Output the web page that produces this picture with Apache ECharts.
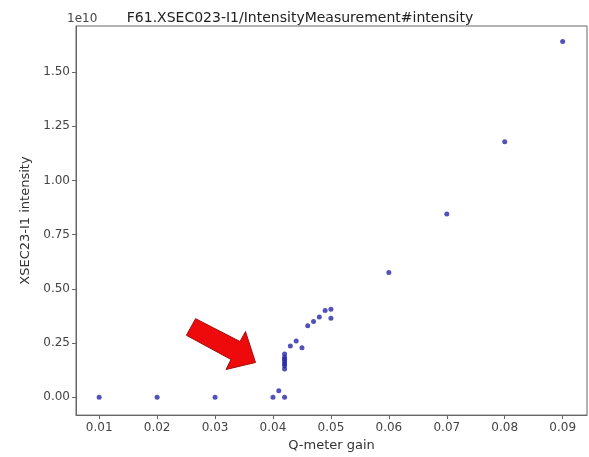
<!DOCTYPE html>
<html>
<head>
<meta charset="utf-8">
<script src="https://cdn.jsdelivr.net/npm/echarts@6/dist/echarts.min.js"></script>
<style>
  html, body { margin: 0; padding: 0; background: #fff; }
  #chart { width: 589px; height: 457px; }
</style>
</head>
<body>
<div id="chart"></div>
<script>
// Q-meter gain settings
const gain = [
  0.010, 0.020, 0.030, 0.040, 0.041, 0.042,
  0.042, 0.042, 0.042, 0.042, 0.042, 0.042, 0.042,
  0.043, 0.044, 0.045, 0.046, 0.047, 0.048, 0.049, 0.050, 0.050,
  0.060, 0.070, 0.080, 0.090
];
// XSEC23-I1 intensity, in units of 1e10
const intensity = [
  0.00, 0.00, 0.00, 0.00, 0.03, 0.00,
  0.13, 0.145, 0.155, 0.165, 0.175, 0.185, 0.20,
  0.237, 0.26, 0.228, 0.33, 0.35, 0.37, 0.40, 0.406, 0.365,
  0.575, 0.845, 1.178, 1.64
];
const xTicks = [0.01, 0.02, 0.03, 0.04, 0.05, 0.06, 0.07, 0.08, 0.09];
const yTicks = [0.00, 0.25, 0.50, 0.75, 1.00, 1.25, 1.50];

const points = gain.map((g, i) => [g, intensity[i]]);

const chart = echarts.init(document.getElementById('chart'), null, { renderer: 'canvas' });
const font = 'DejaVu Sans';
const axisColor = '#666';

chart.setOption({
  animation: false,
  backgroundColor: '#fff',
  grid: {
    left: 76, right: 2, top: 26, bottom: 37,
    show: true, borderColor: axisColor, borderWidth: 1
  },
  title: {
    text: 'F61.XSEC023-I1/IntensityMeasurement#intensity',
    left: 295, top: 6, textAlign: 'center',
    textStyle: { fontFamily: font, fontSize: 14, fontWeight: 'normal', color: '#222' }
  },
  xAxis: {
    type: 'value',
    min: 0.006, max: 0.0942,
    name: 'Q-meter gain',
    nameLocation: 'middle', nameGap: 23,
    nameTextStyle: { fontFamily: font, fontSize: 13, color: '#333' },
    splitLine: { show: false },
    axisLine: { show: true, onZero: false, lineStyle: { color: axisColor } },
    axisTick: { show: true, length: 4, customValues: xTicks, lineStyle: { color: axisColor } },
    axisLabel: {
      customValues: xTicks, margin: 7,
      fontFamily: font, fontSize: 12, color: '#444',
      formatter: v => v.toFixed(2)
    }
  },
  yAxis: {
    type: 'value',
    min: -0.082, max: 1.712,
    name: 'XSEC23-I1 intensity',
    nameLocation: 'middle', nameGap: 39, nameRotate: 90,
    nameTextStyle: { fontFamily: font, fontSize: 13, color: '#333' },
    splitLine: { show: false },
    axisLine: { show: true, onZero: false, lineStyle: { color: axisColor } },
    axisTick: { show: true, length: 4, customValues: yTicks, lineStyle: { color: axisColor } },
    axisLabel: {
      customValues: yTicks, margin: 6,
      fontFamily: font, fontSize: 12, color: '#444',
      formatter: v => v.toFixed(2)
    }
  },
  series: [{
    type: 'scatter',
    data: points,
    symbol: 'circle',
    symbolSize: 5,
    itemStyle: { color: '#2626a8' }
  }],
  graphic: [
    {
      type: 'text', left: 67, top: 13,
      style: { text: '1e10', font: '12px "DejaVu Sans"', fill: '#444' }
    },
    {
      // red annotation arrow pointing at the low-gain cluster
      type: 'polygon',
      shape: {
        points: [
          [186.4, 335.3], [195.6, 318.7], [240.0, 341.5], [245.5, 331.5],
          [255.5, 362.5], [226.0, 369.5], [231.0, 359.5]
        ]
      },
      style: { fill: '#ee0a0a', stroke: '#a01010', lineWidth: 1 }
    }
  ]
});
</script>
</body>
</html>
